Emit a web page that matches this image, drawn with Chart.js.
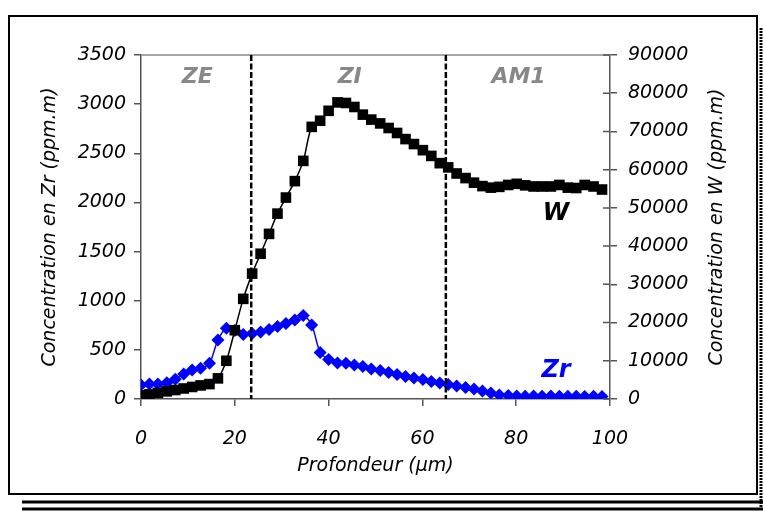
<!DOCTYPE html>
<html>
<head>
<meta charset="utf-8">
<script src="https://cdn.jsdelivr.net/npm/chart.js@4/dist/chart.umd.min.js"></script>
<style>
  html, body { margin: 0; padding: 0; background: #fff; }
  #wrap { width: 763px; height: 515px; }
</style>
</head>
<body>
<div id="wrap"><canvas id="chart" width="763" height="515"></canvas></div>
<script>
'use strict';

// Profondeur (µm)
const depth = [
  0, 1.8, 3.6, 5.5, 7.3, 9.1, 10.9, 12.7, 14.6, 16.4,
  18.2, 20.0, 21.8, 23.7, 25.5, 27.3, 29.1, 30.9, 32.8, 34.6,
  36.4, 38.2, 40.0, 41.9, 43.7, 45.5, 47.3, 49.1, 51.0, 52.8,
  54.6, 56.4, 58.2, 60.1, 61.9, 63.7, 65.5, 67.3, 69.2, 71.0,
  72.8, 74.6, 76.4, 78.3, 80.1, 81.9, 83.7, 85.5, 87.4, 89.2,
  91.0, 92.8, 94.6, 96.5, 98.3
];

// W concentration (ppm.m), right axis
const wConc = [
  1000, 1200, 1600, 2000, 2350, 2750, 3150, 3550, 3900, 5400,
  10000, 18000, 26200, 32800, 38000, 43200, 48500, 52700, 57000, 62300,
  71200, 72800, 75400, 77600, 77450, 76400, 74400, 73100, 72100, 70900,
  69600, 68000, 66700, 65100, 63600, 61700, 60600, 59000, 57800, 56600,
  55700, 55300, 55500, 56000, 56300, 55900, 55600, 55600, 55600, 56000,
  55300, 55200, 56000, 55600, 54800
];

// Zr concentration (ppm.m), left axis
const zrConc = [
  142, 153, 153, 166, 200, 254, 295, 312, 363, 600,
  719, 697, 656, 666, 682, 707, 738, 768, 804, 849,
  753, 473, 402, 366, 363, 346, 331, 305, 290, 270,
  249, 229, 214, 198, 178, 163, 148, 132, 117, 102,
  81, 61, 41, 36, 30, 28, 30, 28, 30, 28,
  27, 28, 26, 27, 25
];

const zoneBounds = [23.5, 65];
const zoneNames = ['ZE', 'ZI', 'AM1'];

const FONT = '"DejaVu Sans", sans-serif';
const AXIS_COL = '#555';

const decor = {
  id: 'decor',
  beforeDraw(chart) {
    const c = chart.ctx;
    c.save();
    c.fillStyle = '#fff';
    c.fillRect(0, 0, chart.width, chart.height);
    // outer frame
    c.strokeStyle = '#000';
    c.lineWidth = 2;
    c.strokeRect(9, 16, 748, 478);
    // shadow
    c.lineWidth = 3;
    c.beginPath();
    c.moveTo(22, 502); c.lineTo(763, 502);
    c.moveTo(22, 509); c.lineTo(763, 509);
    c.stroke();
    c.setLineDash([2, 1]);
    c.beginPath();
    c.moveTo(761, 28); c.lineTo(761, 511);
    c.stroke();
    c.restore();
  },
  afterDatasetsDraw(chart) {
    const c = chart.ctx;
    const area = chart.chartArea;
    const xs = chart.scales.x;
    const yr = chart.scales.yW;
    const yl = chart.scales.yZr;
    c.save();
    // top edge of plot area
    c.strokeStyle = '#888';
    c.lineWidth = 1.5;
    c.beginPath();
    c.moveTo(area.left, area.top); c.lineTo(area.right, area.top);
    c.stroke();
    // inner half of right axis ticks
    c.strokeStyle = AXIS_COL;
    c.beginPath();
    yr.ticks.forEach(t => {
      const py = yr.getPixelForValue(t.value);
      c.moveTo(area.right - 7, py); c.lineTo(area.right, py);
    });
    c.stroke();
    // zone boundaries
    c.strokeStyle = '#000';
    c.lineWidth = 2.5;
    c.setLineDash([6, 2.5]);
    c.beginPath();
    zoneBounds.forEach(v => {
      const px = xs.getPixelForValue(v);
      c.moveTo(px, area.top); c.lineTo(px, area.bottom);
    });
    c.stroke();
    c.setLineDash([]);
    // zone names
    c.font = 'italic bold 22px ' + FONT;
    c.fillStyle = '#888';
    c.textAlign = 'center';
    c.textBaseline = 'middle';
    const zx = [12, 44.5, 80.5];
    zoneNames.forEach((n, i) => c.fillText(n, xs.getPixelForValue(zx[i]), area.top + 22));
    // series names
    c.font = 'italic bold 24px ' + FONT;
    c.fillStyle = '#000';
    c.fillText('W', xs.getPixelForValue(88.5), yr.getPixelForValue(48500));
    c.fillStyle = '#0000ff';
    c.fillText('Zr', xs.getPixelForValue(88.5), yl.getPixelForValue(290));
    // right axis title, read bottom to top
    c.font = 'italic 19px ' + FONT;
    c.fillStyle = '#000';
    c.translate(717, (area.top + area.bottom) / 2);
    c.rotate(-Math.PI / 2);
    c.fillText('Concentration en W (ppm.m)', 0, 0);
    c.restore();
  }
};

const tickFont = { family: FONT, size: 19, style: 'italic' };
const plain = v => String(v);

new Chart(document.getElementById('chart'), {
  type: 'line',
  data: {
    datasets: [
      {
        label: 'W',
        data: depth.map((d, i) => ({ x: d, y: wConc[i] })),
        yAxisID: 'yW',
        borderColor: '#000',
        backgroundColor: '#000',
        borderWidth: 1.5,
        pointStyle: 'rect',
        pointRadius: 7.5,
        pointBorderWidth: 0,
        tension: 0.35,
      },
      {
        label: 'Zr',
        data: depth.map((d, i) => ({ x: d, y: zrConc[i] })),
        yAxisID: 'yZr',
        borderColor: '#0000ff',
        backgroundColor: '#0000ff',
        borderWidth: 1.5,
        pointStyle: 'rectRot',
        pointRadius: 6.5,
        pointBorderWidth: 0,
        tension: 0.3,
      },
    ],
  },
  options: {
    responsive: false,
    devicePixelRatio: 1,
    animation: false,
    layout: { padding: { top: 55, left: 0, right: 0, bottom: 0 } },
    plugins: { legend: { display: false }, tooltip: { enabled: false } },
    scales: {
      x: {
        type: 'linear',
        min: 0, max: 100,
        ticks: { stepSize: 20, color: '#000', font: tickFont, padding: 22, maxRotation: 0, callback: plain },
        grid: { drawOnChartArea: false, tickLength: 7, color: AXIS_COL, lineWidth: 1.5 },
        border: { color: AXIS_COL, width: 1.5 },
        title: { display: true, text: 'Profondeur (µm)', color: '#000', font: tickFont, padding: { top: 0, bottom: 38 } },
        afterFit: s => { s.height = 116; },
      },
      yZr: {
        type: 'linear',
        position: 'left',
        min: 0, max: 3500,
        ticks: { stepSize: 500, color: '#000', font: tickFont, padding: 8, callback: plain },
        grid: { drawOnChartArea: false, tickLength: 7, color: AXIS_COL, lineWidth: 1.5 },
        border: { color: AXIS_COL, width: 1.5 },
        title: { display: true, text: 'Concentration en Zr (ppm.m)', color: '#000', font: tickFont, padding: { top: 39, bottom: 0 } },
        afterFit: s => { s.width = 141; },
      },
      yW: {
        type: 'linear',
        position: 'right',
        min: 0, max: 90000,
        ticks: { stepSize: 10000, color: '#000', font: tickFont, padding: 11, callback: plain },
        grid: { drawOnChartArea: false, tickLength: 7, color: AXIS_COL, lineWidth: 1.5 },
        border: { color: AXIS_COL, width: 1.5 },
        afterFit: s => { s.width = 153; },
      },
    },
  },
  plugins: [decor],
});
</script>
</body>
</html>
